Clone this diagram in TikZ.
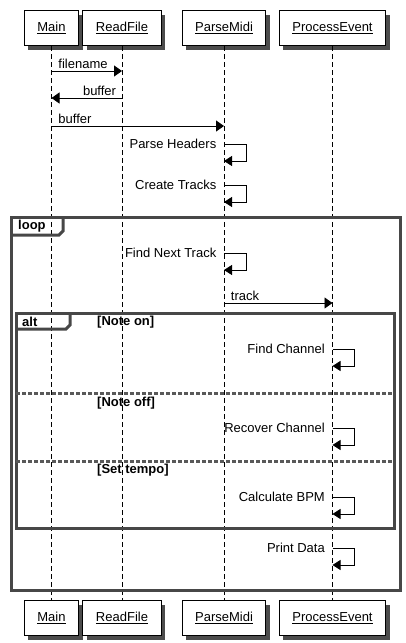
\documentclass[tikz,border=0pt]{standalone}
\usepackage{fontspec}
\setmainfont{Liberation Sans}
\usetikzlibrary{arrows.meta,shadows}
\begin{document}
\begin{tikzpicture}[x=1pt,y=-1pt,
  every node/.style={font=\fontsize{13}{15}\selectfont},
  headbox/.style={draw=black, line width=1pt, fill=white, minimum height=35pt, inner xsep=13pt,
    drop shadow={shadow xshift=4pt, shadow yshift=-4pt, fill=black!70, opacity=1}},
  life/.style={line width=0.8pt, dash pattern=on 5pt off 3pt},
  msg/.style={line width=0.9pt, -{Triangle[length=8pt,width=11pt]}},
  selfmsg/.style={line width=0.9pt, -{Triangle[length=8pt,width=10pt]}},
  frame/.style={draw=black!72, line width=3pt},
  sep/.style={draw=black!65, line width=3pt, dash pattern=on 4pt off 2pt},
  lbl/.style={inner sep=1.5pt},
  guard/.style={font=\fontsize{13}{15}\selectfont\bfseries, inner sep=0pt, anchor=west}
]
\useasboundingbox (0,0) rectangle (406,643);
\fill[white] (0,0) rectangle (406,643);
% heads
\node[headbox] (mainT) at (51.5,28) {\underline{Main}};
\node[headbox] (readT) at (122,28) {\underline{ReadFile}};
\node[headbox] (pmT) at (224,28) {\underline{ParseMidi}};
\node[headbox] (peT) at (332.5,28) {\underline{ProcessEvent}};
\node[headbox] (mainB) at (51.5,618) {\underline{Main}};
\node[headbox] (readB) at (122,618) {\underline{ReadFile}};
\node[headbox] (pmB) at (224,618) {\underline{ParseMidi}};
\node[headbox] (peB) at (332.5,618) {\underline{ProcessEvent}};
% lifelines
\draw[life] (mainT) -- (mainB);
\draw[life] (readT) -- (readB);
\draw[life] (pmT) -- (pmB);
\draw[life] (peT) -- (peB);
% messages
\draw[msg] (mainT.center |- 0,71) -- node[lbl, pos=0, anchor=south west, xshift=5pt] {filename} (readT.center |- 0,71);
\draw[msg] (readT.center |- 0,98) -- node[lbl, pos=0, anchor=south east, xshift=-4pt] {buffer} (mainT.center |- 0,98);
\draw[msg] (mainT.center |- 0,126) -- node[lbl, pos=0, anchor=south west, xshift=5pt] {buffer} (pmT.center |- 0,126);
% self messages
\foreach \y/\t/\n in {144/Parse Headers/pm, 185/Create Tracks/pm, 253/Find Next Track/pm}{
  \draw[selfmsg] (\n T.center |- 0,\y) -- ++(22,0) -- ++(0,17) -- (\n T.center |- 0,\y+17);
  \node[lbl, anchor=east] at ([xshift=-6pt]\n T.center |- 0,\y) {\t};
}
\draw[msg] (pmT.center |- 0,303) -- node[lbl, pos=0, anchor=south west, xshift=5pt] {track} (peT.center |- 0,303);
\foreach \y/\t in {349/Find Channel, 428/Recover Channel, 497/Calculate BPM, 548/Print Data}{
  \draw[selfmsg] (peT.center |- 0,\y) -- ++(22,0) -- ++(0,17) -- (peT.center |- 0,\y+17);
  \node[lbl, anchor=east] at ([xshift=-6pt]peT.center |- 0,\y) {\t};
}
% loop frame
\draw[frame] (11,217) rectangle (400,590);
\draw[frame] (11,235) -- (59,235) -- (63,231) -- (63,217);
\node[guard] (loopL) at (18,226.5) {loop};
% alt frame
\draw[frame] (16,313) rectangle (394,528);
\draw[frame] (16,329) -- (66,329) -- (70,325) -- (70,313);
\node[guard] (altL) at (22,322) {alt};
\node[guard] (g1) at (97,322) {[Note on]};
\draw[sep] (16,393) -- (394,393);
\node[guard] (g2) at (97,403) {[Note off]};
\draw[sep] (16,461) -- (394,461);
\node[guard] (g3) at (97,470) {[Set tempo]};
\end{tikzpicture}
\end{document}
